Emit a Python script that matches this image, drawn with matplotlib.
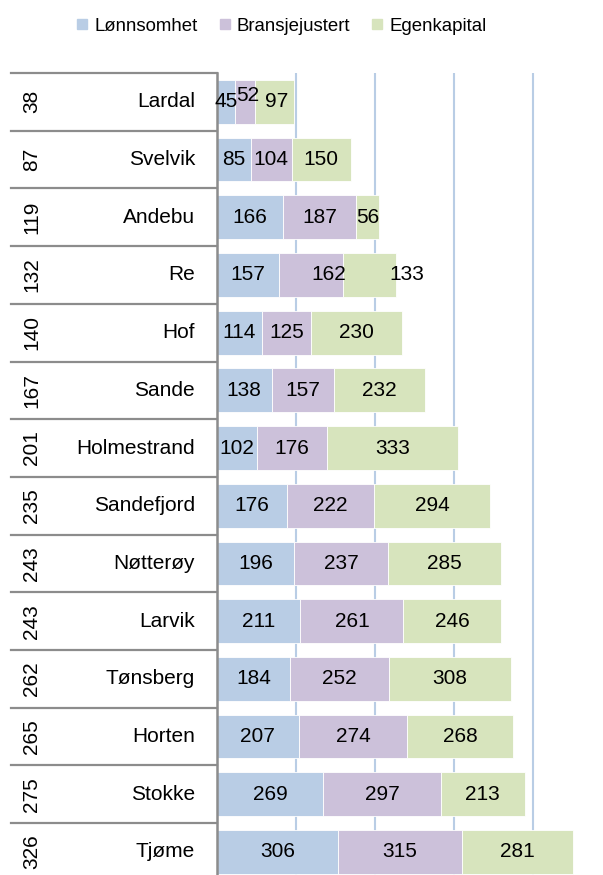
import matplotlib
matplotlib.use("Agg")
import matplotlib.pyplot as plt
from matplotlib.lines import Line2D
from matplotlib import transforms

plt.rcParams['font.family'] = ['Liberation Sans', 'DejaVu Sans']

kommuner = ["Lardal", "Svelvik", "Andebu", "Re", "Hof", "Sande", "Holmestrand",
            "Sandefjord", "Nøtterøy", "Larvik", "Tønsberg", "Horten", "Stokke", "Tjøme"]
rangering = ["38", "87", "119", "132", "140", "167", "201",
             "235", "243", "243", "262", "265", "275", "326"]
lonnsomhet = [45, 85, 166, 157, 114, 138, 102, 176, 196, 211, 184, 207, 269, 306]
bransjejustert = [52, 104, 187, 162, 125, 157, 176, 222, 237, 261, 252, 274, 297, 315]
egenkapital = [97, 150, 56, 133, 230, 232, 333, 294, 285, 246, 308, 268, 213, 281]
serier = ["Lønnsomhet", "Bransjejustert", "Egenkapital"]
farger = ["#B9CDE5", "#CCC1DA", "#D7E4BD"]
x_ticks = [0, 200, 400, 600, 800]

# label nudges (pixels) mimicking Excel's label placement
nudges = {(0, 1): (3, 6), (0, 2): (2, 0), (3, 1): (18, 0), (3, 2): (38, 0)}

W, H = 603, 875
fig = plt.figure(figsize=(W / 100, H / 100), dpi=100)
top_px, row_px = 73, 57.7
n = len(kommuner)
bottom_px = top_px + n * row_px
ax = fig.add_axes([217 / W, (H - bottom_px) / H, (W - 217) / W, (bottom_px - top_px) / H])

ys = list(range(n))
left = [0] * n
vals = [lonnsomhet, bransjejustert, egenkapital]
for si, (v, c) in enumerate(zip(vals, farger)):
    bars = ax.barh(ys, v, left=left, height=0.76, color=c, edgecolor="white",
                   linewidth=0.6, zorder=2)
    for i, b in enumerate(bars):
        dx, dy = nudges.get((i, si), (0, 0))
        ax.annotate(str(v[i]), (b.get_x() + b.get_width() / 2, b.get_y() + b.get_height() / 2),
                    xytext=(dx * 0.72, dy * 0.72), textcoords="offset points",
                    ha="center", va="center", fontsize=15, color="black", zorder=3)
    left = [l + x for l, x in zip(left, v)]

ax.set_xlim(0, (W - 217) / 0.395)
ax.set_ylim(n - 0.5, -0.5)
ax.set_xticks(x_ticks)
ax.set_xticklabels([])
ax.tick_params(axis="x", length=0)
ax.set_yticks([])
ax.grid(axis="x", color="#B9CDE5", linewidth=1.5, zorder=0)
ax.set_axisbelow(True)
for s in ["top", "right", "bottom"]:
    ax.spines[s].set_visible(False)
ax.spines["left"].set_color("#8c8c8c")
ax.spines["left"].set_linewidth(1.8)

# category table on the left
tr = transforms.blended_transform_factory(fig.transFigure, ax.transData)
for k in range(n):
    ax.add_line(Line2D([11 / W, 217 / W], [k - 0.5, k - 0.5], transform=tr,
                       color="#8c8c8c", linewidth=1.6, clip_on=False))
    ax.text(195 / W, k, kommuner[k], transform=tr, ha="right", va="center", fontsize=15)
    ax.text(32 / W, k, rangering[k], transform=tr, ha="center", va="center",
            rotation=90, fontsize=15)

handles = [Line2D([], [], marker="s", linestyle="none", markersize=6.5,
                  markerfacecolor=c, markeredgecolor=c) for c in farger]
fig.legend(handles, serier, loc="center", bbox_to_anchor=(282 / W, 1 - 26 / H),
           ncol=3, frameon=False, fontsize=13.4, handlelength=0.5, handletextpad=0.4,
           columnspacing=1.2, borderaxespad=0)

fig.savefig("out.png", dpi=100)
